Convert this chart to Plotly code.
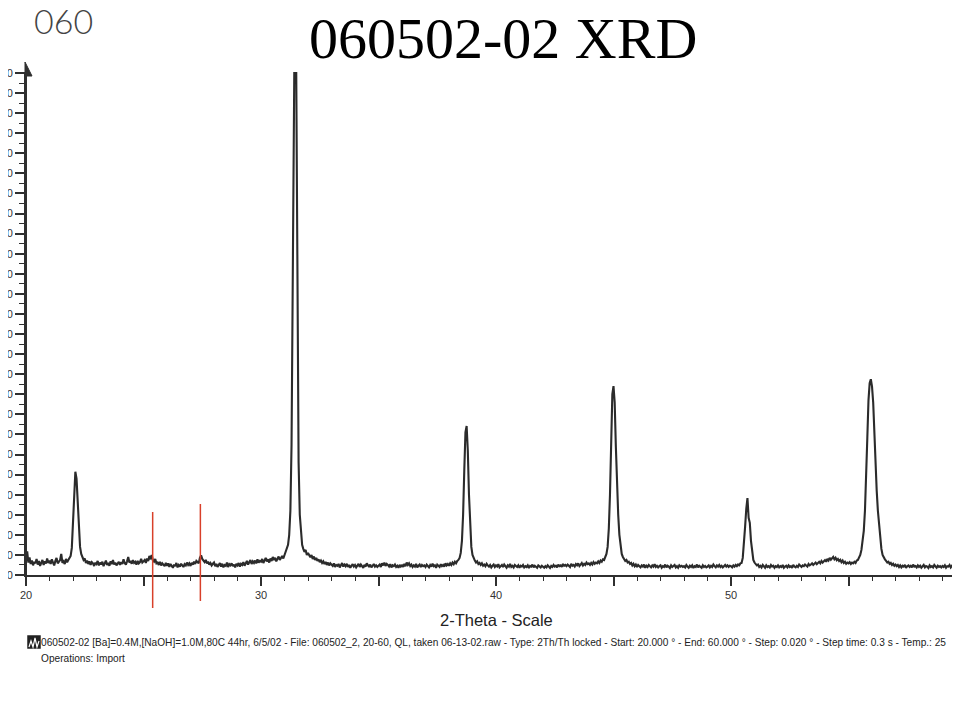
import plotly.graph_objects as go

# ---- data ----
scan_start = 20.0          # deg 2-theta
scan_step = 0.05           # deg, resampled reading step
# counts, one row per degree (20.00-20.95, 21.00-21.95, ...)
counts_by_degree = [
    [70, 118, 62, 88, 55, 72, 48, 66, 58, 80, 52, 70, 45, 63, 75, 50, 68, 57, 82, 60],
    [72, 55, 78, 62, 48, 70, 85, 58, 66, 74, 105, 60, 68, 55, 80, 64, 75, 88, 95, 135],
    [250, 420, 514, 480, 370, 225, 140, 105, 88, 75, 82, 60, 72, 55, 68, 50, 64, 58, 45, 62],
    [55, 70, 48, 62, 52, 66, 44, 58, 72, 50, 60, 46, 68, 54, 75, 52, 62, 48, 58, 66],
    [50, 64, 55, 78, 60, 52, 68, 90, 62, 70, 56, 74, 60, 66, 52, 70, 58, 64, 80, 62],
    [68, 75, 60, 82, 70, 95, 78, 100, 72, 66, 80, 58, 62, 50, 66, 48, 58, 52, 44, 60],
    [46, 58, 40, 55, 48, 36, 52, 44, 60, 38, 50, 42, 56, 45, 40, 54, 48, 62, 50, 58],
    [45, 60, 52, 66, 55, 70, 62, 58, 85, 98, 80, 72, 64, 75, 58, 66, 52, 60, 48, 56],
    [62, 44, 55, 40, 52, 60, 42, 56, 38, 50, 46, 62, 40, 54, 48, 58, 44, 52, 38, 55],
    [48, 60, 42, 56, 50, 64, 46, 58, 70, 52, 62, 75, 55, 68, 60, 72, 58, 78, 62, 70],
    [66, 80, 60, 74, 85, 68, 78, 62, 82, 70, 90, 74, 86, 68, 80, 92, 75, 88, 95, 82],
    [98, 110, 125, 150, 200, 320, 650, 1500, 2700, 3050, 2500, 1250, 560, 300, 200, 150, 130, 115, 125, 100],
    [110, 95, 88, 100, 80, 92, 75, 85, 70, 78, 64, 72, 60, 68, 55, 65, 50, 62, 48, 58],
    [52, 45, 58, 40, 50, 46, 55, 38, 48, 60, 42, 52, 44, 56, 40, 50, 36, 48, 54, 42],
    [50, 38, 46, 55, 40, 52, 44, 36, 50, 42, 58, 45, 40, 52, 38, 46, 55, 42, 48, 40],
    [46, 52, 40, 58, 48, 62, 45, 55, 50, 42, 54, 38, 48, 44, 52, 40, 46, 36, 50, 42],
    [48, 40, 55, 44, 62, 50, 58, 45, 52, 40, 48, 42, 55, 38, 46, 52, 40, 50, 44, 48],
    [40, 52, 45, 38, 50, 42, 56, 44, 48, 36, 52, 46, 40, 54, 44, 50, 42, 58, 48, 55],
    [46, 58, 50, 62, 54, 66, 58, 70, 75, 85, 110, 170, 300, 520, 710, 742, 620, 400, 230, 140],
    [100, 80, 72, 62, 68, 55, 60, 50, 58, 46, 52, 44, 56, 48, 42, 50, 38, 46, 52, 40],
    [48, 42, 54, 38, 46, 50, 40, 52, 44, 36, 48, 42, 55, 40, 46, 38, 50, 44, 40, 48],
    [36, 46, 42, 50, 38, 44, 40, 48, 35, 45, 42, 52, 38, 46, 40, 36, 48, 42, 38, 46],
    [40, 36, 44, 38, 48, 42, 35, 45, 40, 50, 42, 46, 38, 52, 44, 48, 40, 55, 46, 50],
    [44, 52, 48, 40, 56, 46, 50, 42, 54, 48, 58, 45, 52, 60, 48, 56, 50, 62, 54, 58],
    [50, 60, 52, 64, 56, 62, 58, 68, 60, 72, 66, 78, 75, 88, 105, 140, 230, 400, 680, 900],
    [941, 860, 640, 430, 300, 200, 140, 105, 90, 80, 70, 75, 62, 66, 55, 60, 48, 56, 44, 52],
    [40, 50, 44, 38, 48, 42, 52, 36, 46, 40, 50, 44, 38, 48, 42, 54, 40, 46, 38, 44],
    [48, 36, 44, 40, 52, 38, 46, 42, 35, 48, 40, 45, 50, 38, 44, 36, 48, 42, 46, 40],
    [44, 38, 50, 42, 36, 46, 40, 48, 35, 44, 40, 52, 38, 46, 42, 36, 48, 40, 45, 38],
    [42, 48, 38, 46, 40, 52, 44, 38, 48, 42, 50, 40, 46, 38, 44, 50, 42, 48, 40, 46],
    [44, 38, 48, 42, 50, 44, 52, 48, 58, 60, 85, 150, 240, 330, 383, 285, 260, 170, 105, 75],
    [62, 55, 48, 52, 40, 46, 38, 50, 42, 36, 48, 40, 44, 38, 50, 42, 46, 36, 44, 40],
    [48, 38, 44, 40, 50, 36, 42, 46, 38, 48, 40, 44, 36, 50, 42, 38, 46, 40, 52, 44],
    [40, 48, 44, 52, 46, 42, 55, 48, 52, 58, 50, 56, 62, 54, 60, 66, 58, 70, 62, 68],
    [74, 66, 80, 72, 85, 76, 82, 90, 78, 86, 74, 80, 70, 76, 64, 72, 60, 66, 56, 62],
    [58, 64, 55, 62, 58, 66, 60, 72, 75, 85, 100, 125, 170, 220, 320, 470, 680, 870, 955, 975],
    [940, 860, 700, 540, 420, 320, 240, 170, 130, 100, 85, 78, 70, 62, 66, 55, 60, 50, 56, 46],
    [52, 44, 50, 40, 48, 38, 46, 42, 50, 36, 44, 48, 40, 46, 38, 52, 42, 45, 38, 48],
    [40, 46, 36, 44, 50, 38, 45, 42, 35, 48, 40, 44, 38, 50, 42, 36, 46, 40, 44, 38],
    [45, 40, 48, 36, 44, 42, 50, 38, 46, 40, 35, 48, 42, 45, 38, 52, 40, 44, 36, 46],
    [42],
]

x_tick_vals = [20, 25, 30, 35, 40, 45, 50, 55]
x_tick_text = ["20", "", "30", "", "40", "", "50", ""]
y_tick_vals = list(range(0, 2600, 100))
y_tick_text = [str(v) for v in y_tick_vals]
marked_positions = [25.39, 27.42]   # hand-drawn red markers (deg 2-theta)

title_text = "060502-02 XRD"
handwriting = "060"
x_title = "2-Theta - Scale"
caption_1 = ("060502-02 [Ba]=0.4M,[NaOH]=1.0M,80C 44hr, 6/5/02 - File: 060502_2, 20-60, QL, "
             "taken 06-13-02.raw - Type: 2Th/Th locked - Start: 20.000 \u00b0 - End: 60.000 \u00b0 - "
             "Step: 0.020 \u00b0 - Step time: 0.3 s - Temp.: 25")
caption_2 = "Operations: Import"

# ---- build series ----
two_theta = []
counts = []
for k, row in enumerate(counts_by_degree):
    for j, c in enumerate(row):
        two_theta.append(round(scan_start + k + scan_step * j, 3))
        counts.append(c)

# ---- layout geometry ----
# the page body adds an 8px offset; target positions below are in screen pixels
OFF = 8
W, H = 960, 720
L, R, T, B = 26 - OFF, OFF, 72 - OFF, 720 - (575 - OFF)
PW, PH = W - L - R, H - T - B
px_per_deg = 23.5
x_max = 20 + PW / px_per_deg


def px(xs):
    return (xs - OFF - L) / PW


def py(ys):
    return (H - B - (ys - OFF)) / PH


AX = "#2f2f2f"
FONT = "Liberation Sans, Arial, sans-serif"

fig = go.Figure()
fig.add_trace(go.Scatter(
    x=two_theta, y=counts, mode="lines",
    line=dict(color="#2b2b2b", width=2.1),
    hoverinfo="skip", showlegend=False,
))

shapes = []
# red hand-drawn marker lines
shapes.append(dict(type="line", xref="x", yref="paper", x0=marked_positions[0], x1=marked_positions[0],
                   y0=py(512), y1=py(608), line=dict(color="#d8402a", width=1.5)))
shapes.append(dict(type="line", xref="x", yref="paper", x0=marked_positions[1], x1=marked_positions[1],
                   y0=py(504), y1=py(601), line=dict(color="#d8402a", width=1.5)))
# y-axis arrow head
shapes.append(dict(type="path", xref="paper", yref="paper",
                   path=f"M {px(25)} {py(62)} L {px(25)} {py(76)} L {px(32)} {py(76)} Z",
                   fillcolor=AX, line=dict(color=AX, width=1)))
# y axis line extension to arrow
shapes.append(dict(type="line", xref="paper", yref="paper", x0=px(26), x1=px(26), y0=py(575), y1=py(66),
                   line=dict(color=AX, width=2)))
# caption icon
shapes.append(dict(type="rect", xref="paper", yref="paper", x0=px(28), x1=px(40), y0=py(636), y1=py(648),
                   line=dict(color="#222", width=1.5), fillcolor="#222"))
shapes.append(dict(type="path", xref="paper", yref="paper",
                   path=(f"M {px(29)} {py(647)} L {px(31)} {py(641)} L {px(33)} {py(647)} "
                         f"L {px(35)} {py(638)} L {px(37)} {py(647)} L {px(39)} {py(641)}"),
                   line=dict(color="white", width=1.2)))

annotations = [
    dict(text=title_text, xref="paper", yref="paper", x=px(503), y=py(39), xanchor="center", yanchor="middle",
         showarrow=False, font=dict(family="Liberation Serif, Times New Roman, serif", size=58, color="#000")),
    dict(text=handwriting, xref="paper", yref="paper", x=px(63), y=py(21), xanchor="center", yanchor="middle",
         showarrow=False, font=dict(family="Lato, sans-serif", size=34, color="#444", weight=300)),
    dict(text=x_title, xref="paper", yref="paper", x=px(496), y=py(620), xanchor="center", yanchor="middle",
         showarrow=False, font=dict(family=FONT, size=16.5, color="#222")),
    dict(text=caption_1, xref="paper", yref="paper", x=px(39), y=py(642), xanchor="left", yanchor="middle",
         showarrow=False, font=dict(family=FONT, size=10.15, color="#222")),
    dict(text=caption_2, xref="paper", yref="paper", x=px(39), y=py(658), xanchor="left", yanchor="middle",
         showarrow=False, font=dict(family=FONT, size=10.15, color="#222")),
]

fig.update_layout(
    template="none",
    width=W, height=H,
    margin=dict(l=L, r=R, t=T, b=B, pad=0),
    paper_bgcolor="white", plot_bgcolor="white",
    showlegend=False,
    shapes=shapes,
    annotations=annotations,
    xaxis=dict(
        range=[20, x_max], automargin=False, showgrid=False, zeroline=False,
        showline=True, linecolor=AX, linewidth=2,
        tickmode="array", tickvals=x_tick_vals, ticktext=x_tick_text,
        ticks="outside", ticklen=9, tickwidth=1.5, tickcolor=AX,
        tickfont=dict(family=FONT, size=11, color="#333"),
        minor=dict(dtick=1, ticks="outside", ticklen=4, tickwidth=1.2, tickcolor=AX, showgrid=False),
    ),
    yaxis=dict(
        range=[0, 2505], automargin=False, showgrid=False, zeroline=False,
        showline=True, linecolor=AX, linewidth=2,
        tickmode="array", tickvals=y_tick_vals, ticktext=y_tick_text,
        ticks="outside", ticklen=9, tickwidth=1.5, tickcolor=AX,
        tickfont=dict(family=FONT, size=11, color="#333"),
        minor=dict(dtick=50, ticks="outside", ticklen=5, tickwidth=1.2, tickcolor=AX, showgrid=False),
    ),
)

fig.write_html("out.html")
